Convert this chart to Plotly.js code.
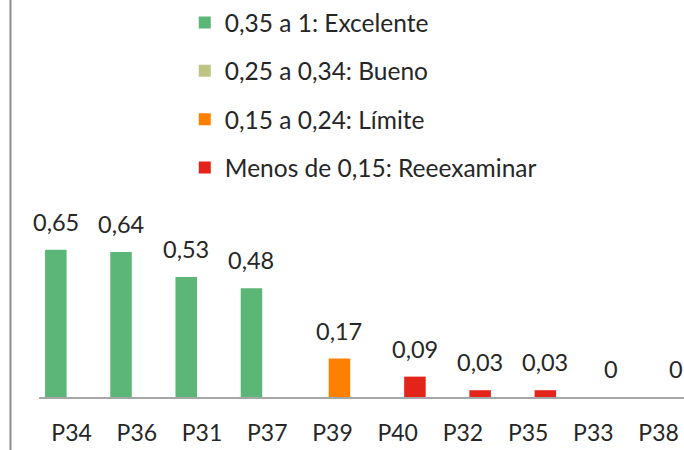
<!DOCTYPE html>
<html>
<head>
<meta charset="utf-8">
<script src="https://cdn.plot.ly/plotly-3.0.1.min.js"></script>
<style>
  html, body { margin: 0; padding: 0; background: #ffffff; }
  #chart { width: 684px; height: 450px; }
</style>
</head>
<body>
<div id="chart"></div>
<script>
// ---- Data ----
const categories = ["P34", "P36", "P31", "P37", "P39", "P40", "P32", "P35", "P33", "P38"];
const seriesNames = ["0,35 a 1: Excelente", "0,25 a 0,34: Bueno", "0,15 a 0,24: Límite", "Menos de 0,15: Reeexaminar"];
const excelente  = [0.65, 0.64, 0.53, 0.48, null, null, null, null, null, null];
const bueno      = [null, null, null, null, null, null, null, null, null, null];
const limite     = [null, null, null, null, 0.17, null, null, null, null, null];
const reexaminar = [null, null, null, null, null, 0.09, 0.03, 0.03, 0, 0];

// ---- Styles ----
const colors = ["#5cb677", "#bec482", "#ff8000", "#e2241a"];
const barWidth = 0.33;
const offsets = [-0.407, -0.24, -0.058, 0.099];   // left edge of each series' bar within a category
const pxPerCat = 65.2;
const fontFam = 'Lato, "Open Sans", sans-serif';
const textColor = "#262626";

const allSeries = [excelente, bueno, limite, reexaminar];

function fmt(v) { return String(v).replace(".", ","); }

const traces = allSeries.map((vals, s) => ({
  type: "bar",
  name: seriesNames[s],
  x: categories,
  y: vals,
  width: barWidth,
  offset: offsets[s],
  marker: { color: colors[s] },
  legendgroup: "g" + s,
  hoverinfo: "x+y"
}));

const annotations = [];
allSeries.forEach((vals, s) => {
  vals.forEach((v, i) => {
    if (v === null) return;
    annotations.push({
      x: categories[i], y: v, xref: "x", yref: "y",
      text: fmt(v), showarrow: false,
      xanchor: "center", yanchor: "bottom",
      xshift: (offsets[s] + barWidth / 2) * pxPerCat,
      yshift: 12,
      font: { family: fontFam, size: 23.5, color: textColor }
    });
  });
});

const layout = {
  width: 684, height: 450,
  margin: { l: 39, r: 0, t: 0, b: 53, pad: 0 },
  paper_bgcolor: "#ffffff", plot_bgcolor: "#ffffff",
  barmode: "overlay",
  separators: ",.",
  font: { family: fontFam, size: 22, color: textColor },
  showlegend: true,
  legend: {
    x: 0.226, xanchor: "left", y: 1.0, yanchor: "top",
    font: { family: fontFam, size: 24.5, color: textColor },
    tracegroupgap: 13.5,
    bgcolor: "rgba(0,0,0,0)",
    traceorder: "grouped"
  },
  xaxis: {
    type: "category",
    range: [-0.5, 9.39],
    showgrid: false, zeroline: false,
    showline: true, linecolor: "#a6a6a6", linewidth: 2,
    ticks: "", ticklabelstandoff: 14,
    tickfont: { family: fontFam, size: 23, color: textColor },
    fixedrange: true
  },
  yaxis: {
    range: [0, 1.753],
    showgrid: false, zeroline: false, showline: false,
    showticklabels: false, ticks: "",
    fixedrange: true
  },
  annotations: annotations,
  shapes: [{
    type: "line", xref: "paper", yref: "paper",
    x0: -0.0442, x1: -0.0442, y0: -0.2, y1: 1.1,
    line: { color: "#8c8c8c", width: 2 }
  }]
};

Plotly.newPlot("chart", traces, layout, { displayModeBar: false, staticPlot: true });
</script>
</body>
</html>
